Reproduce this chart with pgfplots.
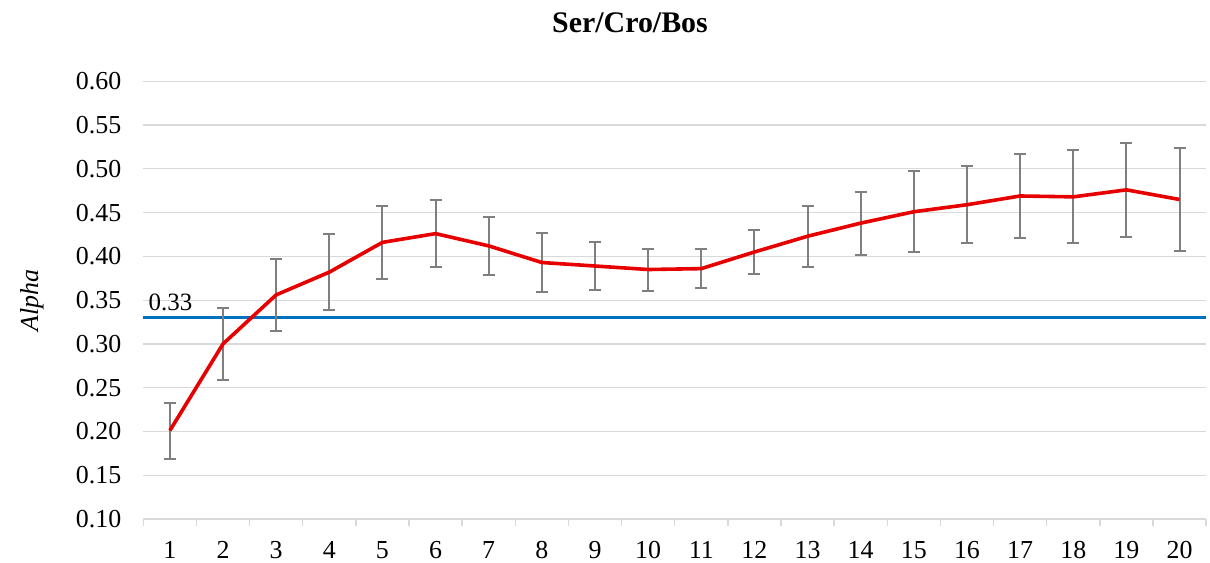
\documentclass[border=0pt]{standalone}
\usepackage{pgfplots}
\pgfplotsset{compat=1.18}
\usepackage{fontspec}
\setmainfont{Liberation Serif}
\definecolor{redline}{HTML}{E60000}
\definecolor{blueline}{HTML}{0070C0}
\definecolor{errgray}{HTML}{7F7F7F}
\definecolor{gridgray}{HTML}{D9D9D9}

\begin{document}
\begin{tikzpicture}
% canvas matching the reference (1 px = 0.5 bp)
\path[use as bounding box] (-71.65bp,-22bp) rectangle (533.35bp,259.5bp);
\begin{axis}[
    scale only axis,
    width=531.4bp, height=218.85bp,
    at={(0,0)}, anchor=south west,
    xmin=0.5, xmax=20.5,
    ymin=0.10, ymax=0.60,
    xtick={1,...,20},
    minor xtick={0.5,1.5,...,20.5},
    ytick={0.10,0.15,...,0.61},
    major tick length=0pt,
    minor tick length=3.5bp,
    tick align=outside,
    axis x line*=bottom,
    axis y line*=left,
    x axis line style={draw=gridgray, line width=0.7bp},
    y axis line style={draw=none},
    minor x tick style={draw=gridgray, line width=0.7bp},
    ymajorgrids,
    major grid style={draw=gridgray, line width=0.6bp},
    font=\fontsize{13}{15}\selectfont,
    /pgf/number format/assume math mode=true,
    yticklabel style={xshift=-7.5bp, /pgf/number format/.cd, fixed, fixed zerofill, precision=2},
    xticklabel style={yshift=-7.8bp},
    ylabel={\textit{Alpha}},
    ylabel style={at={(axis description cs:-0.1047,0.5)}, anchor=center},
    clip=false,
]
\addplot[blueline, line width=1.5bp, mark=none] coordinates {(0.5,0.33) (20.5,0.33)};
\node[anchor=base west, inner sep=0pt, xshift=2.5bp, yshift=3.5bp, font=\fontsize{12.5}{14}\selectfont] at (axis cs:0.5,0.33) {0.33};

\addplot[draw=none, mark=none, forget plot,
    error bars/.cd, y dir=both, y explicit,
    error mark=|,
    error bar style={draw=errgray, line width=1bp},
    error mark options={draw=errgray, line width=1bp, mark size=3bp}]
table[x=x, y=y, y error=e] {
x  y     e
1  0.201 0.032
2  0.300 0.041
3  0.356 0.041
4  0.382 0.043
5  0.416 0.042
6  0.426 0.038
7  0.412 0.033
8  0.393 0.034
9  0.389 0.027
10 0.385 0.024
11 0.386 0.022
12 0.405 0.025
13 0.423 0.035
14 0.438 0.036
15 0.451 0.046
16 0.459 0.044
17 0.469 0.048
18 0.468 0.053
19 0.476 0.054
20 0.465 0.059
};

\addplot[redline, line width=1.8bp, mark=none] table[x=x, y=y] {
x  y
1  0.201
2  0.300
3  0.356
4  0.382
5  0.416
6  0.426
7  0.412
8  0.393
9  0.389
10 0.385
11 0.386
12 0.405
13 0.423
14 0.438
15 0.451
16 0.459
17 0.469
18 0.468
19 0.476
20 0.465
};

\node[anchor=base, font=\fontsize{15}{17}\selectfont\bfseries] at (axis cs:0.5,0.60) [xshift=243.35bp, yshift=24.6bp] {Ser/Cro/Bos};
\end{axis}
\end{tikzpicture}
\end{document}
